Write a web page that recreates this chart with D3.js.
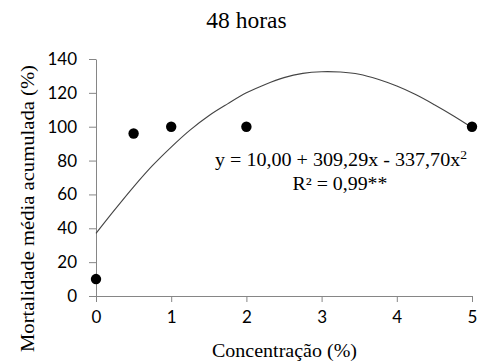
<!DOCTYPE html>
<html><head><meta charset="utf-8">
<script src="https://cdn.jsdelivr.net/npm/d3@7"></script>
<style>body{margin:0;background:#fff}</style>
</head><body>
<svg id="c" width="479" height="363"></svg>
<script>
const title = "48 horas";
const xLabel = "Concentração (%)";
const yLabel = "Mortalidade média acumulada (%)";
const concentrations = [0, 0.5, 1, 2, 5];
const mortality = [10, 96, 100, 100, 100];
const curveX = [0, 0.25, 0.5, 0.75, 1, 1.25, 1.5, 1.75, 2, 2.25, 2.5, 2.75, 3, 3.25, 3.5, 3.75, 4, 4.25, 4.5, 4.75, 5];
const curveY = [37, 51, 64.5, 77, 88, 98, 106.5, 113.5, 120, 125, 129, 131.5, 132.5, 132.3, 131, 128, 124, 119, 113, 106.5, 99.5];
const xTicks = [0, 1, 2, 3, 4, 5];
const yTicks = [0, 20, 40, 60, 80, 100, 120, 140];
const eqLine1 = "y = 10,00 + 309,29x - 337,70x";
const eqLine2 = "R² = 0,99**";

const svg = d3.select("#c");
const x = d3.scaleLinear().domain([0, 5]).range([96, 472]);
const y = d3.scaleLinear().domain([0, 140]).range([296, 59]);
const axisColor = "#868686";
const sans = "Lato, 'Liberation Sans', sans-serif";
const serif = "Liberation Serif, DejaVu Serif, serif";

const gx = svg.append("g").attr("transform", `translate(0,${y(0)})`)
  .call(d3.axisBottom(x).tickValues(xTicks).tickSize(6).tickSizeOuter(0).tickPadding(9).tickFormat(d3.format("d")));
const gy = svg.append("g").attr("transform", `translate(${x(0)},0)`)
  .call(d3.axisLeft(y).tickValues(yTicks).tickSize(7).tickSizeOuter(0).tickPadding(12));
[gx, gy].forEach(g => {
  g.attr("font-family", null).attr("font-size", null);
  g.select(".domain").attr("stroke", axisColor);
  g.selectAll(".tick line").attr("stroke", axisColor);
  g.selectAll(".tick text").attr("fill", "#000").attr("font-family", sans).attr("font-size", 17);
});

const line = d3.line().x(d => x(d[0])).y(d => y(d[1])).curve(d3.curveCatmullRom);
svg.append("path").datum(curveX.map((v, i) => [v, curveY[i]]))
  .attr("d", line).attr("fill", "none").attr("stroke", "#444").attr("stroke-width", 1.1);

svg.selectAll("circle.pt").data(concentrations).enter().append("circle")
  .attr("class", "pt").attr("cx", d => x(d)).attr("cy", (d, i) => y(mortality[i]))
  .attr("r", 5.2).attr("fill", "#000");

function t(xp, yp, size, txt, len) {
  const el = svg.append("text").attr("x", xp).attr("y", yp).attr("text-anchor", "middle")
    .attr("font-family", serif).attr("font-size", size).text(txt);
  if (len) el.attr("textLength", len).attr("lengthAdjust", "spacingAndGlyphs");
  return el;
}
t(246.5, 28, 23.5, title);
t(284.5, 357, 18.5, xLabel, 145);
svg.append("text").attr("transform", "translate(34,208.5) rotate(-90)").attr("text-anchor", "middle")
  .attr("font-family", serif).attr("font-size", 19).attr("textLength", 287).attr("lengthAdjust", "spacingAndGlyphs")
  .text(yLabel);

const eq = svg.append("text").attr("x", 341).attr("y", 166).attr("text-anchor", "middle")
  .attr("font-family", serif).attr("font-size", 18.5).attr("textLength", 252).attr("lengthAdjust", "spacingAndGlyphs");
eq.append("tspan").text(eqLine1);
eq.append("tspan").attr("dy", -7).attr("font-size", 12.5).text("2");
t(340, 190, 18.5, eqLine2, 95);
</script>
</body></html>
